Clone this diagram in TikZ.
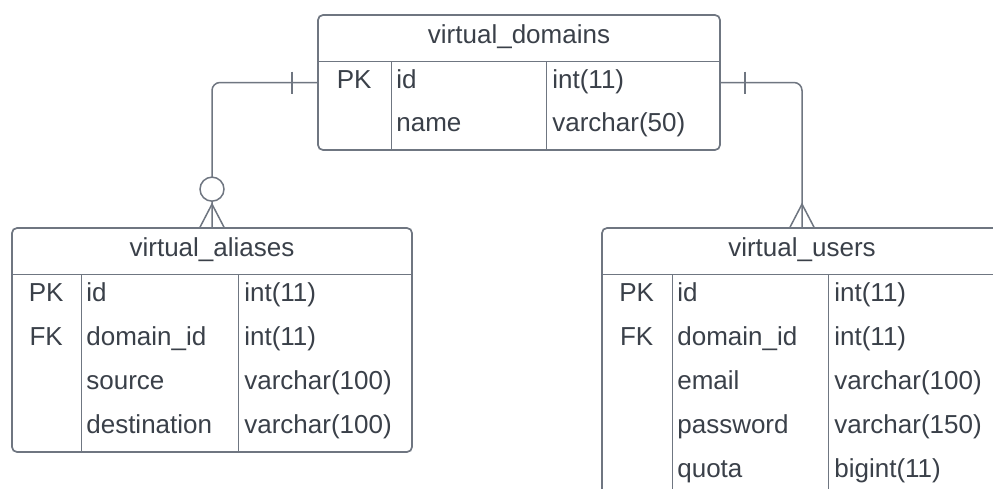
\documentclass[tikz,border=0pt]{standalone}
\usepackage{fontspec}
\setmainfont{Liberation Sans}
\usetikzlibrary{positioning}
\definecolor{erline}{HTML}{6F7681}
\definecolor{ertext}{HTML}{3A4049}
\tikzset{tbl/.style={draw=erline, line width=1.7pt, rounded corners=5pt, inner sep=0pt},
         sep/.style={draw=erline, line width=1.2pt},
         txt/.style={text=ertext, font=\fontsize{26}{30}\selectfont, inner sep=0pt},
         rel/.style={draw=erline, line width=1.5pt, rounded corners=8pt},
         relend/.style={draw=erline, line width=1.5pt}}

\begin{document}
\begin{tikzpicture}[x=1pt,y=-1pt]
   \useasboundingbox (0,0) rectangle (993,488);
   \clip (0,0) rectangle (993,488);
   \fill[white] (0,0) rectangle (993,488);
   % tables
   \node[tbl, minimum width=402pt, minimum height=135pt] (domains) at (519,82.5) {};
   \node[tbl, minimum width=400pt, minimum height=224pt] (aliases) at (212,340) {};
   \node[tbl, minimum width=400pt, minimum height=268pt] (users) at (802,362) {};
   % relations
   \draw[rel] (domains.west) -| (aliases.north);
   \draw[rel] (domains.east) -| (users.north);
   \coordinate (lbar) at ([xshift=-25pt]domains.west);
   \coordinate (rbar) at ([xshift=24pt]domains.east);
   \draw[relend] ([yshift=11pt]lbar) -- ([yshift=-11pt]lbar);
   \draw[relend] ([yshift=11pt]rbar) -- ([yshift=-11pt]rbar);
   \node[circle, relend, fill=white, minimum size=24pt, inner sep=0pt] (lopt) at ([yshift=38pt]aliases.north) {};
   \coordinate (lcrow) at ([yshift=23pt]aliases.north);
   \coordinate (rcrow) at ([yshift=23pt]users.north);
   \draw[relend] ([xshift=-12pt]aliases.north) -- (lcrow) -- ([xshift=12pt]aliases.north);
   \draw[relend] ([xshift=-12pt]users.north) -- (rcrow) -- ([xshift=12pt]users.north);
   % virtual_domains
   \draw[sep] ([yshift=-47pt]domains.north west) -- ([yshift=-47pt]domains.north east);
   \draw[sep] ([xshift=74pt,yshift=-47pt]domains.north west) -- ([xshift=74pt]domains.south west);
   \draw[sep] ([xshift=229pt,yshift=-47pt]domains.north west) -- ([xshift=229pt]domains.south west);
   \node[txt, anchor=base] (d-title) at ([yshift=-29.5pt]domains.north) {virtual\_domains};
   \node[txt, anchor=base] (d-pk) at ([xshift=37pt,yshift=-74.5pt]domains.north west) {PK};
   \node[txt, anchor=base west] (d-id) at ([xshift=79pt,yshift=-74.5pt]domains.north west) {id};
   \node[txt, anchor=base west] (d-idt) at ([xshift=235pt,yshift=-74.5pt]domains.north west) {int(11)};
   \node[txt, anchor=base west] (d-name) at ([xshift=79pt,yshift=-117.5pt]domains.north west) {name};
   \node[txt, anchor=base west] (d-namet) at ([xshift=235pt,yshift=-117.5pt]domains.north west) {varchar(50)};
   % virtual_aliases
   \draw[sep] ([yshift=-47pt]aliases.north west) -- ([yshift=-47pt]aliases.north east);
   \draw[sep] ([xshift=70pt,yshift=-47pt]aliases.north west) -- ([xshift=70pt]aliases.south west);
   \draw[sep] ([xshift=227pt,yshift=-47pt]aliases.north west) -- ([xshift=227pt]aliases.south west);
   \node[txt, anchor=base] (a-title) at ([yshift=-29.5pt]aliases.north) {virtual\_aliases};
   \node[txt, anchor=base] (a-pk) at ([xshift=35pt,yshift=-74.5pt]aliases.north west) {PK};
   \node[txt, anchor=base] (a-fk) at ([xshift=35pt,yshift=-118.5pt]aliases.north west) {FK};
   \node[txt, anchor=base west] (a-id) at ([xshift=75pt,yshift=-74.5pt]aliases.north west) {id};
   \node[txt, anchor=base west] (a-dom) at ([xshift=75pt,yshift=-118.5pt]aliases.north west) {domain\_id};
   \node[txt, anchor=base west] (a-src) at ([xshift=75pt,yshift=-162.5pt]aliases.north west) {source};
   \node[txt, anchor=base west] (a-dst) at ([xshift=75pt,yshift=-206.5pt]aliases.north west) {destination};
   \node[txt, anchor=base west] (a-idt) at ([xshift=233pt,yshift=-74.5pt]aliases.north west) {int(11)};
   \node[txt, anchor=base west] (a-domt) at ([xshift=233pt,yshift=-118.5pt]aliases.north west) {int(11)};
   \node[txt, anchor=base west] (a-srct) at ([xshift=233pt,yshift=-162.5pt]aliases.north west) {varchar(100)};
   \node[txt, anchor=base west] (a-dstt) at ([xshift=233pt,yshift=-206.5pt]aliases.north west) {varchar(100)};
   % virtual_users
   \draw[sep] ([yshift=-47pt]users.north west) -- ([yshift=-47pt]users.north east);
   \draw[sep] ([xshift=71pt,yshift=-47pt]users.north west) -- ([xshift=71pt]users.south west);
   \draw[sep] ([xshift=227pt,yshift=-47pt]users.north west) -- ([xshift=227pt]users.south west);
   \node[txt, anchor=base] (u-title) at ([yshift=-29.5pt]users.north) {virtual\_users};
   \node[txt, anchor=base] (u-pk) at ([xshift=35.5pt,yshift=-74.5pt]users.north west) {PK};
   \node[txt, anchor=base] (u-fk) at ([xshift=35.5pt,yshift=-118.5pt]users.north west) {FK};
   \node[txt, anchor=base west] (u-id) at ([xshift=76pt,yshift=-74.5pt]users.north west) {id};
   \node[txt, anchor=base west] (u-dom) at ([xshift=76pt,yshift=-118.5pt]users.north west) {domain\_id};
   \node[txt, anchor=base west] (u-mail) at ([xshift=76pt,yshift=-162.5pt]users.north west) {email};
   \node[txt, anchor=base west] (u-pass) at ([xshift=76pt,yshift=-206.5pt]users.north west) {password};
   \node[txt, anchor=base west] (u-quota) at ([xshift=76pt,yshift=-250.5pt]users.north west) {quota};
   \node[txt, anchor=base west] (u-idt) at ([xshift=233pt,yshift=-74.5pt]users.north west) {int(11)};
   \node[txt, anchor=base west] (u-domt) at ([xshift=233pt,yshift=-118.5pt]users.north west) {int(11)};
   \node[txt, anchor=base west] (u-mailt) at ([xshift=233pt,yshift=-162.5pt]users.north west) {varchar(100)};
   \node[txt, anchor=base west] (u-passt) at ([xshift=233pt,yshift=-206.5pt]users.north west) {varchar(150)};
   \node[txt, anchor=base west] (u-quotat) at ([xshift=233pt,yshift=-250.5pt]users.north west) {bigint(11)};
\end{tikzpicture}
\end{document}
